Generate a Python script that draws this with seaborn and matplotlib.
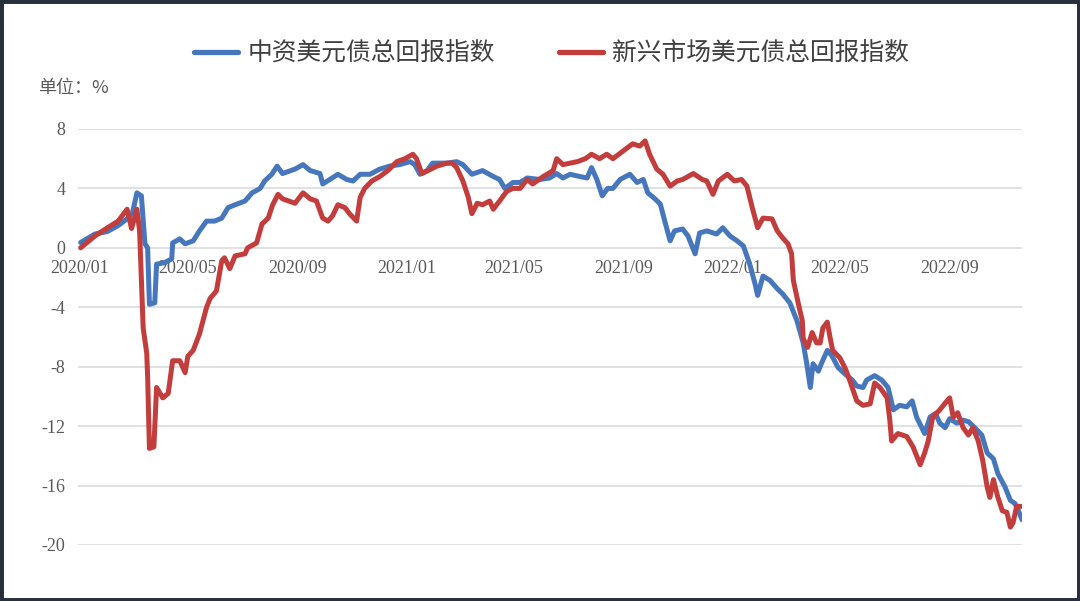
import pandas as pd
import matplotlib.pyplot as plt
import matplotlib.dates as mdates
from matplotlib.patches import Rectangle
from matplotlib.lines import Line2D
import seaborn as sns

# 中资美元债总回报指数 (%)
cn_dates = [
    '2020-01-02', '2020-01-18', '2020-02-01', '2020-02-13', '2020-02-24', '2020-02-29',
    '2020-03-05', '2020-03-10', '2020-03-14', '2020-03-17', '2020-03-19', '2020-03-25',
    '2020-03-27', '2020-04-05', '2020-04-13', '2020-04-14', '2020-04-22', '2020-04-28',
    '2020-05-07', '2020-05-14', '2020-05-22', '2020-05-31', '2020-06-08', '2020-06-15',
    '2020-06-23', '2020-07-04', '2020-07-12', '2020-07-21', '2020-07-26', '2020-08-03',
    '2020-08-09', '2020-08-15', '2020-08-29', '2020-09-07', '2020-09-15', '2020-09-26',
    '2020-09-29', '2020-10-07', '2020-10-16', '2020-10-26', '2020-11-02', '2020-11-10',
    '2020-11-21', '2020-12-02', '2020-12-13', '2020-12-24', '2021-01-05', '2021-01-10',
    '2021-01-16', '2021-01-24', '2021-01-30', '2021-02-15', '2021-02-26', '2021-03-05',
    '2021-03-15', '2021-03-27', '2021-04-08', '2021-04-15', '2021-04-21', '2021-04-30',
    '2021-05-08', '2021-05-16', '2021-05-30', '2021-06-10', '2021-06-18', '2021-06-25',
    '2021-07-03', '2021-07-14', '2021-07-22', '2021-07-27', '2021-08-02', '2021-08-08',
    '2021-08-14', '2021-08-20', '2021-08-28', '2021-09-08', '2021-09-16', '2021-09-23',
    '2021-09-28', '2021-10-06', '2021-10-12', '2021-10-17', '2021-10-23', '2021-10-28',
    '2021-11-06', '2021-11-12', '2021-11-20', '2021-11-25', '2021-12-03', '2021-12-14',
    '2021-12-21', '2021-12-29', '2022-01-06', '2022-01-13', '2022-01-20', '2022-01-26',
    '2022-01-29', '2022-02-04', '2022-02-12', '2022-02-20', '2022-02-26', '2022-03-06',
    '2022-03-14', '2022-03-21', '2022-03-25', '2022-03-29', '2022-04-01', '2022-04-07',
    '2022-04-11', '2022-04-17', '2022-04-22', '2022-04-29', '2022-05-07', '2022-05-15',
    '2022-05-20', '2022-05-27', '2022-05-31', '2022-06-09', '2022-06-17', '2022-06-24',
    '2022-06-30', '2022-07-07', '2022-07-15', '2022-07-21', '2022-07-26', '2022-08-04',
    '2022-08-10', '2022-08-16', '2022-08-21', '2022-08-27', '2022-09-01', '2022-09-09',
    '2022-09-16', '2022-09-22', '2022-09-29', '2022-10-07', '2022-10-13', '2022-10-20',
    '2022-10-25', '2022-11-02', '2022-11-08', '2022-11-13', '2022-11-17', '2022-11-21',
]
cn_vals = [
    0.36, 0.93, 1.1, 1.5, 2.0, 2.35,
    3.7, 3.5, 0.27, 0.0, -3.8, -3.7,
    -1.1, -1.0, -0.74, 0.33, 0.6, 0.27,
    0.47, 1.14, 1.8, 1.8, 2.0, 2.7,
    2.9, 3.15, 3.7, 4.0, 4.5, 4.95,
    5.5, 5.0, 5.3, 5.6, 5.2, 5.0,
    4.3, 4.6, 4.95, 4.6, 4.5, 4.95,
    4.95, 5.3, 5.5, 5.6, 5.8, 5.6,
    4.95, 5.2, 5.7, 5.7, 5.8, 5.6,
    4.95, 5.2, 4.8, 4.6, 4.0, 4.4,
    4.4, 4.7, 4.6, 4.7, 5.0, 4.7,
    4.95, 4.8, 4.7, 5.4, 4.6, 3.5,
    4.0, 4.0, 4.6, 4.95, 4.4, 4.6,
    3.7, 3.3, 2.95, 1.8, 0.47, 1.14,
    1.27, 0.8, -0.4, 1.0, 1.14, 0.93,
    1.35, 0.8, 0.47, 0.13, -1.07, -2.4,
    -3.2, -1.9, -2.2, -2.75, -3.1, -3.7,
    -4.9, -6.4, -7.8, -9.4, -7.8, -8.3,
    -7.7, -6.9, -7.25, -8.05, -8.5, -8.9,
    -9.3, -9.4, -8.9, -8.6, -8.9, -9.4,
    -10.9, -10.6, -10.7, -10.3, -11.4, -12.5,
    -11.4, -11.15, -11.8, -12.1, -11.5, -11.8,
    -11.6, -11.7, -12.1, -12.6, -13.8, -14.2,
    -15.2, -16.1, -17.0, -17.2, -17.7, -18.3,
]

# 新兴市场美元债总回报指数 (%)
em_dates = [
    '2020-01-02', '2020-01-18', '2020-02-01', '2020-02-13', '2020-02-23', '2020-02-28',
    '2020-03-05', '2020-03-08', '2020-03-12', '2020-03-16', '2020-03-17', '2020-03-19',
    '2020-03-24', '2020-03-27', '2020-04-03', '2020-04-09', '2020-04-14', '2020-04-22',
    '2020-04-28', '2020-05-01', '2020-05-07', '2020-05-14', '2020-05-22', '2020-05-26',
    '2020-06-02', '2020-06-08', '2020-06-11', '2020-06-17', '2020-06-23', '2020-07-04',
    '2020-07-07', '2020-07-17', '2020-07-23', '2020-07-30', '2020-08-04', '2020-08-10',
    '2020-08-15', '2020-08-29', '2020-09-07', '2020-09-15', '2020-09-22', '2020-09-29',
    '2020-10-05', '2020-10-10', '2020-10-16', '2020-10-24', '2020-10-29', '2020-11-06',
    '2020-11-10', '2020-11-15', '2020-11-23', '2020-12-02', '2020-12-11', '2020-12-21',
    '2020-12-30', '2021-01-08', '2021-01-12', '2021-01-18', '2021-01-25', '2021-02-04',
    '2021-02-15', '2021-02-21', '2021-02-26', '2021-03-05', '2021-03-11', '2021-03-15',
    '2021-03-21', '2021-03-27', '2021-04-04', '2021-04-08', '2021-04-15', '2021-04-23',
    '2021-04-30', '2021-05-08', '2021-05-16', '2021-05-22', '2021-06-03', '2021-06-14',
    '2021-06-18', '2021-06-25', '2021-07-11', '2021-07-20', '2021-07-27', '2021-08-05',
    '2021-08-13', '2021-08-20', '2021-08-31', '2021-09-11', '2021-09-19', '2021-09-25',
    '2021-09-30', '2021-10-08', '2021-10-15', '2021-10-23', '2021-10-31', '2021-11-06',
    '2021-11-18', '2021-11-28', '2021-12-03', '2021-12-10', '2021-12-16', '2021-12-26',
    '2022-01-03', '2022-01-11', '2022-01-17', '2022-01-23', '2022-01-29', '2022-02-04',
    '2022-02-14', '2022-02-20', '2022-02-26', '2022-03-04', '2022-03-08', '2022-03-10',
    '2022-03-15', '2022-03-20', '2022-03-21', '2022-03-26', '2022-03-31', '2022-04-05',
    '2022-04-09', '2022-04-12', '2022-04-17', '2022-04-20', '2022-04-23', '2022-05-01',
    '2022-05-07', '2022-05-12', '2022-05-20', '2022-05-27', '2022-06-04', '2022-06-09',
    '2022-06-15', '2022-06-23', '2022-06-26', '2022-06-28', '2022-07-05', '2022-07-15',
    '2022-07-22', '2022-07-30', '2022-08-04', '2022-08-08', '2022-08-13', '2022-08-21',
    '2022-08-29', '2022-09-01', '2022-09-05', '2022-09-10', '2022-09-16', '2022-09-22',
    '2022-09-27', '2022-10-03', '2022-10-08', '2022-10-13', '2022-10-16', '2022-10-20',
    '2022-10-25', '2022-10-30', '2022-11-04', '2022-11-08', '2022-11-11', '2022-11-15',
    '2022-11-21',
]
em_vals = [
    0.0, 0.8, 1.35, 1.8, 2.6, 1.3,
    2.6, 1.14, -5.4, -7.1, -8.7, -13.5,
    -13.4, -9.4, -10.1, -9.8, -7.6, -7.6,
    -8.4, -7.3, -6.9, -5.8, -4.0, -3.4,
    -2.9, -0.87, -0.67, -1.4, -0.54, -0.4,
    0.0, 0.33, 1.6, 2.0, 2.9, 3.6,
    3.3, 3.0, 3.7, 3.3, 3.15, 2.0,
    1.8, 2.15, 2.9, 2.7, 2.3, 1.8,
    3.4, 4.0, 4.5, 4.8, 5.2, 5.8,
    6.0, 6.3, 6.0, 5.0, 5.2, 5.5,
    5.7, 5.7, 5.4, 4.5, 3.4, 2.3,
    3.0, 2.9, 3.15, 2.6, 3.15, 3.8,
    4.0, 4.0, 4.6, 4.3, 4.8, 5.2,
    6.0, 5.6, 5.8, 6.0, 6.3, 6.0,
    6.3, 6.0, 6.5, 7.0, 6.85, 7.2,
    6.3, 5.3, 4.95, 4.15, 4.5, 4.6,
    5.0, 4.6, 4.5, 3.6, 4.5, 4.95,
    4.5, 4.6, 4.15, 2.7, 1.35, 2.0,
    1.95, 1.14, 0.67, 0.27, -0.4, -2.2,
    -3.6, -4.9, -6.1, -6.7, -5.7, -6.4,
    -6.4, -5.4, -5.0, -6.0, -6.9, -7.4,
    -8.1, -8.9, -10.3, -10.6, -10.5, -9.1,
    -9.4, -10.1, -11.6, -13.0, -12.5, -12.7,
    -13.4, -14.6, -13.8, -13.0, -11.4, -10.9,
    -10.3, -10.1, -11.4, -11.1, -12.1, -12.6,
    -12.1, -13.0, -14.3, -16.1, -16.8, -15.6,
    -16.8, -17.7, -17.8, -18.8, -18.5, -17.4,
    -17.4,
]

series_names = ['中资美元债总回报指数', '新兴市场美元债总回报指数']
series_colors = ['#4677bd', '#c23d3b']
y_ticks = [-20, -16, -12, -8, -4, 0, 4, 8]

df = pd.concat([
    pd.DataFrame({'date': pd.to_datetime(cn_dates), 'value': cn_vals, 'series': series_names[0]}),
    pd.DataFrame({'date': pd.to_datetime(em_dates), 'value': em_vals, 'series': series_names[1]}),
])

sns.set_style('white')
plt.rcParams['font.family'] = ['Noto Sans CJK SC', 'DejaVu Sans']
plt.rcParams['axes.unicode_minus'] = False

fig = plt.figure(figsize=(10.8, 6.01), dpi=100)
ax = fig.add_axes([0.0722, 0.0932, 0.8741, 0.6922])

sns.lineplot(data=df, x='date', y='value', hue='series',
             palette=dict(zip(series_names, series_colors)),
             estimator=None, linewidth=3.6, legend=False, ax=ax)

ax.set_xlim(pd.Timestamp('2019-12-30'), pd.Timestamp('2022-11-21'))
ax.set_ylim(-20, 8)
ax.set_yticks(y_ticks)
ax.yaxis.grid(True, color='#d9d9d9', linewidth=1.1)
ax.set_axisbelow(True)
for s in ax.spines.values():
    s.set_visible(False)
# x labels sit just under the zero line
ax.spines['bottom'].set_position(('data', 0))

ax.xaxis.set_major_locator(mdates.MonthLocator(bymonth=[1, 5, 9]))
ax.xaxis.set_major_formatter(mdates.DateFormatter('%Y/%m'))
ax.tick_params(axis='x', length=0, pad=9, labelsize=13, labelcolor='#595959')
ax.tick_params(axis='y', length=0, pad=9, labelsize=13, labelcolor='#595959')
for lab in ax.get_xticklabels() + ax.get_yticklabels():
    lab.set_family('Liberation Serif')
ax.set_xlabel(None)
ax.set_ylabel(None)

handles = [Line2D([], [], color=c, linewidth=3.8) for c in series_colors]
fig.legend(handles, series_names, loc='center', bbox_to_anchor=(0.511, 0.911),
           ncol=2, frameon=False, fontsize=17.8, handlelength=1.75,
           handletextpad=0.4, columnspacing=2.6, labelcolor='#404040')

fig.text(0.035, 0.853, '单位：%', fontsize=13, color='#595959', va='center',
         family=['Noto Sans CJK SC', 'DejaVu Sans'])

fig.patches.append(Rectangle((0, 0), 1, 1, transform=fig.transFigure, fill=False,
                             edgecolor='#28303d', linewidth=5, clip_on=False))

plt.savefig('out.png', dpi=100)
